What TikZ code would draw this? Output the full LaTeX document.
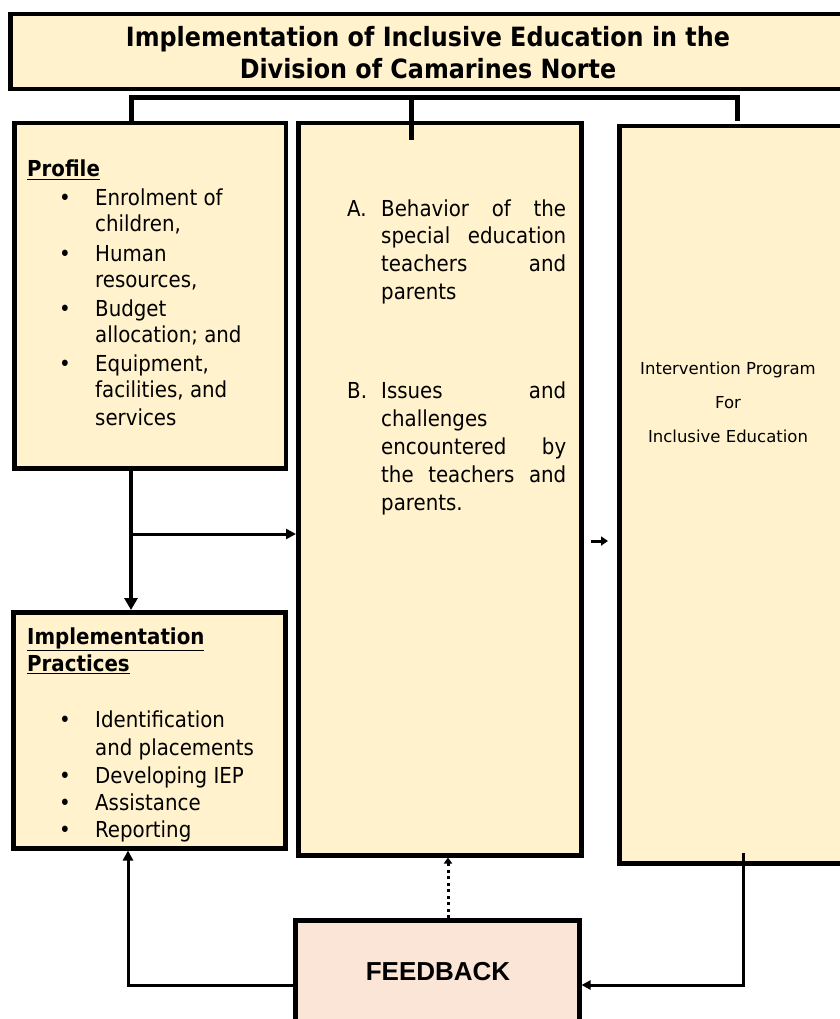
\documentclass[tikz,border=0pt]{standalone}
\usepackage{fontspec}
\setmainfont{DejaVuSansCondensed}[Extension=.ttf,BoldFont=DejaVuSansCondensed-Bold]
\newfontfamily\arialfont{Liberation Sans}
\newfontfamily\widefont{DejaVu Sans}
\usetikzlibrary{arrows.meta,positioning,calc}
\definecolor{iecream}{HTML}{FFF2CC}
\definecolor{iepeach}{HTML}{FBE5D6}
\tikzset{
  panel/.style={draw=black,line width=4.5pt,fill=iecream,anchor=north west,inner sep=0pt},
  bodytext/.style={anchor=base west,inner sep=0pt,font=\fontsize{22}{26}\selectfont},
  headtext/.style={anchor=base west,inner sep=0pt,font=\fontsize{22}{26}\selectfont\bfseries},
  link/.style={line width=3pt},
  tip/.style={-{Triangle[length=10pt,width=10pt]}},
}

\begin{document}
\begin{tikzpicture}[x=1pt,y=-1pt]
  \useasboundingbox (0,0) rectangle (839,1019);
  % Boxes
  \node[panel,minimum width=839.5pt,minimum height=75pt] (title) at (8,12) {};
  \node[panel,minimum width=271.5pt,minimum height=345pt] (profile) at (12,121) {};
  \node[panel,minimum width=283pt,minimum height=732pt] (middle) at (296,121) {};
  \node[panel,minimum width=240pt,minimum height=737pt] (right) at (617,124) {};
  \node[panel,minimum width=272pt,minimum height=236pt] (impl) at (11,610) {};
  \node[panel,fill=iepeach,minimum width=284pt,minimum height=120pt] (feedback) at (293,918) {};

  % Title
  \node[font=\fontsize{26.5}{32}\selectfont\bfseries,align=center] (titletext) at (428,53)
    {Implementation of Inclusive Education in the\\Division of Camarines Norte};

  % Top bar
  \coordinate (jl) at (131,98);
  \coordinate (jm) at (411,98);
  \coordinate (jr) at (737,98);
  \coordinate (jmend) at (411,140);
  \coordinate (jrend) at (737,121);
  \draw[line width=5pt] (jl |- profile.north) -- (jl) -- (jr) -- (jrend);
  \draw[line width=5pt] (jm) -- (jmend);

  % Profile
  \node[headtext] (profhead) at (27,177) {\underline{Profile}};
  \foreach \y/\t in {197/{Enrolment of},223/{children,},253/Human,279/{resources,},
                     308/Budget,334/{allocation; and},363/{Equipment,},389/{facilities, and},417/services}
    \node[bodytext] (prof\y) at (95,\y+8) {\t};
  \foreach \y in {197,253,308,363}
    \node[bodytext,anchor=base] (pbul\y) at (65,\y+8) {\textbullet};

  % Implementation practices
  \node[headtext] (implhead1) at (27,644) {\underline{Implementation}};
  \node[headtext] (implhead2) at (27,671) {\underline{Practices}};
  \foreach \y/\t in {719/Identification,747/{and placements},775/{Developing IEP},802/Assistance,829/Reporting}
    \node[bodytext] (impl\y) at (95,\y+8) {\t};
  \foreach \y in {719,775,802,829}
    \node[bodytext,anchor=base] (ibul\y) at (65,\y+8) {\textbullet};

  % Middle column
  \node[bodytext] (mida) at (347,216) {A.};
  \foreach \y/\t in {208/{Behavior of the},235/{special education},263/{teachers and}}
    \node[bodytext] (mid\y) at (381,\y+8) {\makebox[185pt][s]{\t}};
  \node[bodytext] (mid291) at (381,299) {parents};
  \node[bodytext] (midb) at (347,398) {B.};
  \foreach \y/\t in {390/{Issues and},446/{encountered by},474/{the teachers and}}
    \node[bodytext] (mid\y) at (381,\y+8) {\makebox[185pt][s]{\t}};
  \node[bodytext] (mid418) at (381,426) {challenges};
  \node[bodytext] (mid502) at (381,510) {parents.};

  % Right column
  \node[font=\widefont\fontsize{16.5}{34}\selectfont,align=center] (righttext) at (728,402)
    {Intervention Program\\For\\Inclusive Education};

  % Feedback
  \node[font=\arialfont\bfseries\fontsize{26}{30}\selectfont] (fbtext) at (438,972) {FEEDBACK};

  % Connectors
  \coordinate (split) at (131,534);
  \draw[line width=4.5pt,-{Triangle[length=12pt,width=13pt]}] (split |- profile.south) -- (split |- impl.north);
  \draw[link,tip] (split) -- (split -| middle.west);
  \coordinate (gap) at (591,541);
  \draw[link,-{Triangle[length=7pt,width=9pt]},shorten >=9pt] (gap) -- (gap -| right.west);
  \coordinate (dotx) at (448,0);
  \draw[link,dash pattern=on 3pt off 3.5pt,-{Triangle[length=6pt,width=8pt]}] (dotx |- feedback.north) -- (dotx |- middle.south);
  \coordinate (rdrop) at (743,853);
  \coordinate (rcorner) at (743,985);
  \draw[link,-{Triangle[length=9pt,width=9pt]}] (rdrop) -- (rcorner) -- (rcorner -| feedback.east);
  \coordinate (lcorner) at (128,985);
  \draw[link,tip] (lcorner -| feedback.west) -- (lcorner) -- (lcorner |- impl.south);
\end{tikzpicture}
\end{document}
